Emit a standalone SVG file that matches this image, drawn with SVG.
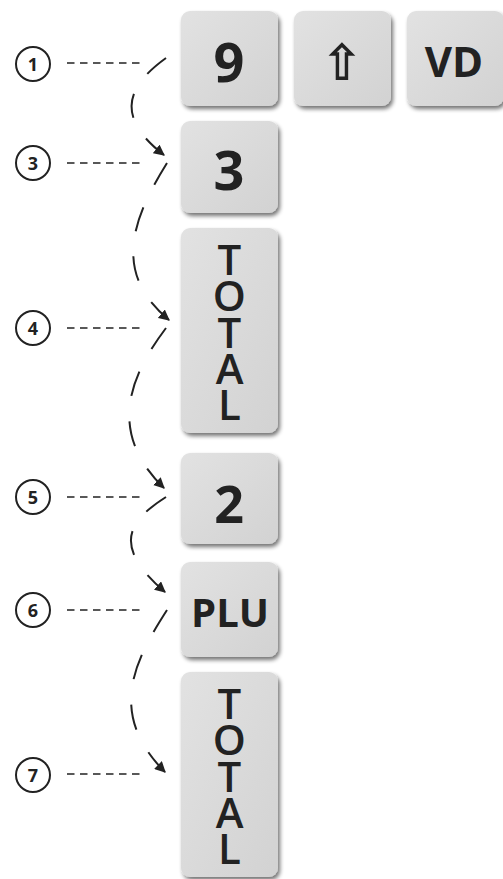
<svg xmlns="http://www.w3.org/2000/svg" width="503" height="879" viewBox="0 0 503 879">
<defs>
<linearGradient id="kg" x1="0" y1="0" x2="1" y2="1">
<stop offset="0" stop-color="#e2e2e2"/>
<stop offset="1" stop-color="#d2d2d2"/>
</linearGradient>
<filter id="sh" x="-10%" y="-10%" width="130%" height="130%">
<feGaussianBlur in="SourceAlpha" stdDeviation="2"/>
<feOffset dx="2" dy="3" result="b"/>
<feComponentTransfer><feFuncA type="linear" slope="0.55"/></feComponentTransfer>
<feMerge><feMergeNode/><feMergeNode in="SourceGraphic"/></feMerge>
</filter>
<marker id="ah" viewBox="0 0 10 10" refX="9" refY="5" markerWidth="11" markerHeight="11" markerUnits="userSpaceOnUse" orient="auto">
<path d="M0,0 L10,5 L0,10 z" fill="#222"/>
</marker>
</defs>
<style>
.key{fill:url(#kg);filter:url(#sh)}
.kt{font-family:"Open Sans","DejaVu Sans",sans-serif;font-weight:bold;fill:#222;text-anchor:middle}
.tt{font-family:"Open Sans","DejaVu Sans",sans-serif;font-weight:600;fill:#222;font-size:42px;writing-mode:vertical-rl;text-orientation:upright;letter-spacing:-20.7px}
.circ{fill:#fff;stroke:#222;stroke-width:2}
.cn{font-family:"Open Sans","DejaVu Sans",sans-serif;font-weight:bold;fill:#222;text-anchor:middle;font-size:18px}
.hl{stroke:#222;stroke-width:1.6;stroke-dasharray:7.5 5.5;fill:none}
.cv{stroke:#222;stroke-width:2;fill:none;marker-end:url(#ah)}
</style>
<rect width="503" height="879" fill="#fff"/>

<g id="key-9"><rect class="key" x="181" y="11" width="97" height="95" rx="9"/><text class="kt" x="229" y="82" font-size="54">9</text></g>
<g id="key-shift"><rect class="key" x="294" y="11" width="97" height="95" rx="9"/><text class="kt" x="342" y="80" font-size="50" style="font-family:'DejaVu Sans',sans-serif;font-weight:bold">⇧</text></g>
<g id="key-vd"><rect class="key" x="407" y="11" width="97" height="95" rx="9"/><text class="kt" x="454" y="77" font-size="42">VD</text></g>
<g id="key-3"><rect class="key" x="181" y="121" width="97" height="92" rx="9"/><text class="kt" x="229" y="190" font-size="54">3</text></g>
<g id="key-total-1"><rect class="key" x="181" y="228" width="97" height="205" rx="9"/>
<text class="tt" x="229" y="230">TOTAL</text></g>
<g id="key-2"><rect class="key" x="181" y="453" width="97" height="91" rx="9"/><text class="kt" x="229" y="523" font-size="52">2</text></g>
<g id="key-plu"><rect class="key" x="181" y="562" width="97" height="95" rx="9"/><text class="kt" x="230" y="627" font-size="40">PLU</text></g>
<g id="key-total-2"><rect class="key" x="181" y="672" width="97" height="205" rx="9"/>
<text class="tt" x="229" y="674">TOTAL</text></g>

<g id="step-1"><circle class="circ" cx="33" cy="64" r="17"/><text class="cn" x="33" y="70.5">1</text></g>
<g id="step-3"><circle class="circ" cx="33" cy="163" r="17"/><text class="cn" x="33" y="169.5">3</text></g>
<g id="step-4"><circle class="circ" cx="33" cy="328" r="17"/><text class="cn" x="33" y="334.5">4</text></g>
<g id="step-5"><circle class="circ" cx="33" cy="497" r="17"/><text class="cn" x="33" y="503.5">5</text></g>
<g id="step-6"><circle class="circ" cx="33" cy="610" r="17"/><text class="cn" x="33" y="616.5">6</text></g>
<g id="step-7"><circle class="circ" cx="33" cy="775" r="17"/><text class="cn" x="33" y="781.5">7</text></g>

<g id="connectors">
<line class="hl" x1="67" y1="63" x2="143" y2="63"/>
<line class="hl" x1="67" y1="163" x2="143" y2="163"/>
<line class="hl" x1="67" y1="328" x2="143" y2="328"/>
<line class="hl" x1="67" y1="497" x2="143" y2="497"/>
<line class="hl" x1="67" y1="610" x2="143" y2="610"/>
<line class="hl" x1="67" y1="774" x2="143" y2="774"/>
<path class="cv" pathLength="100" stroke-dasharray="20 20" d="M166,58 C130,84 112,115 164,155"/>
<path class="cv" pathLength="100" stroke-dasharray="14.29 14.28" d="M167,163 C136,213 109,271 169,320"/>
<path class="cv" pathLength="100" stroke-dasharray="14.29 14.28" d="M166,328 C136,368 102,428 164,488"/>
<path class="cv" pathLength="100" stroke-dasharray="20 20" d="M166,497 C130,520 110,545 165,592"/>
<path class="cv" pathLength="100" stroke-dasharray="14.29 14.28" d="M167,610 C137,657 105,712 165,772"/>
</g>
</svg>
